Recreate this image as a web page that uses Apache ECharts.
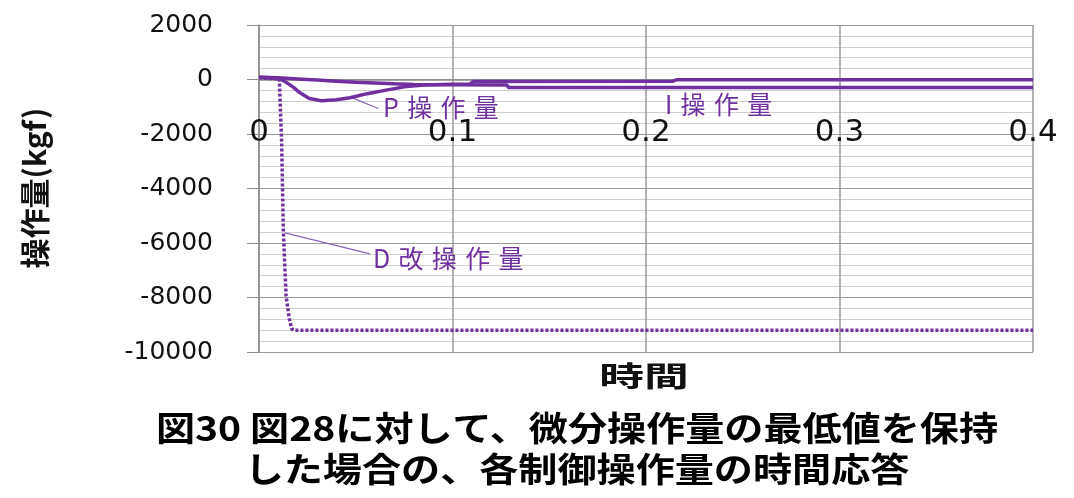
<!DOCTYPE html>
<html>
<head>
<meta charset="utf-8">
<script src="https://cdn.jsdelivr.net/npm/echarts@6/dist/echarts.min.js"></script>
<style>
  html, body { margin: 0; background: #fff; }
  #chart { width: 1074px; height: 498px; }
</style>
</head>
<body>
<div id="chart"></div>
<script>
// 時間 [s]
const xTicks = [0, 0.1, 0.2, 0.3, 0.4];
const yTicks = [-10000, -8000, -6000, -4000, -2000, 0, 2000];

// P操作量
const pTime = [0, 0.006, 0.011, 0.014, 0.018, 0.021, 0.026, 0.0324, 0.04, 0.047, 0.056, 0.065, 0.075, 0.085, 0.1, 0.109, 0.111, 0.214, 0.216, 0.4];
const pValue = [80, 60, 20, -100, -300, -480, -700, -780, -740, -670, -520, -400, -270, -200, -175, -165, -70, -60, -5, -5];

// I操作量
const iTime = [0, 0.01, 0.02, 0.03, 0.04, 0.05, 0.06, 0.07, 0.08, 0.1, 0.128, 0.129, 0.4];
const iValue = [80, 60, 20, -20, -60, -100, -130, -160, -180, -190, -200, -290, -290];

// D改操作量 (最低値を保持)
const dTime = [0, 0.0105, 0.0113, 0.0117, 0.0126, 0.014, 0.0157, 0.0169, 0.018, 0.4];
const dValue = [60, 20, 0, -2300, -5600, -7950, -8800, -9150, -9200, -9200];

const zip = (t, v) => t.map((x, i) => [x, v[i]]);

const purple = '#7030a0';
const gridTop = 25;
const gridBottom = 146;
const gridHeight = 498 - gridTop - gridBottom;
// x軸を 0 の位置へ持ち上げる
const yMin = yTicks[0];
const yMax = yTicks[yTicks.length - 1];
const xAxisOffset = -gridHeight * (0 - yMin) / (yMax - yMin);

const chart = echarts.init(document.getElementById('chart'));

const option = {
  animation: false,
  grid: { left: 259, right: 41, top: gridTop, bottom: gridBottom },
  xAxis: {
    type: 'value',
    min: xTicks[0],
    max: xTicks[xTicks.length - 1],
    interval: 0.1,
    offset: xAxisOffset,
    axisLine: { onZero: false, lineStyle: { color: '#8c8c8c', width: 1.5 } },
    axisTick: { show: false },
    axisLabel: {
      margin: 38,
      color: '#111',
      fontFamily: 'DejaVu Sans',
      fontSize: 31,
      showMaxLabel: true,
      formatter: v => String(v),
    },
    splitLine: { show: true, lineStyle: { color: '#9a9a9a', width: 1.5 } },
  },
  yAxis: {
    type: 'value',
    min: yMin,
    max: yMax,
    interval: 2000,
    axisLine: { show: true, lineStyle: { color: '#8c8c8c', width: 1.5 } },
    axisTick: { show: true, length: 12, lineStyle: { color: '#8c8c8c' } },
    axisLabel: {
      margin: 46,
      color: '#111',
      fontFamily: 'DejaVu Sans',
      fontSize: 25,
      formatter: v => String(v),
    },
    splitLine: { show: true, lineStyle: { color: '#9a9a9a', width: 1.2 } },
    minorTick: { show: false, splitNumber: 5 },
    minorSplitLine: { show: true, lineStyle: { color: '#cfcfcf', width: 1 } },
  },
  series: [
    {
      name: 'I操作量',
      type: 'line',
      data: zip(iTime, iValue),
      showSymbol: false,
      lineStyle: { color: purple, width: 3.5 },
    },
    {
      name: 'P操作量',
      type: 'line',
      data: zip(pTime, pValue),
      showSymbol: false,
      lineStyle: { color: purple, width: 3.5 },
    },
    {
      name: 'D改操作量',
      type: 'line',
      data: zip(dTime, dValue),
      showSymbol: false,
      lineStyle: { color: purple, width: 3.5, type: [3, 2] },
    },
  ],
};

chart.setOption(option);

// 注記とタイトル
const px = (t, v) => chart.convertToPixel({ gridIndex: 0 }, [t, v]);
const sp = '\u2004';
const notes = [
  { text: ['P', '操', '作', '量'].join(sp), at: [0.0641, -1028], from: [0.047, -636], to: [0.0617, -1064] },
  { text: ['I', '操', '作', '量'].join(sp), at: [0.2098, -917] },
  { text: ['D', '改', '操', '作', '量'].join(sp), at: [0.0589, -6570], from: [0.01344, -5627], to: [0.0574, -6397] },
];

const graphics = [];
notes.forEach(n => {
  if (n.from) {
    const a = px(n.from[0], n.from[1]);
    const b = px(n.to[0], n.to[1]);
    graphics.push({
      type: 'line',
      shape: { x1: a[0], y1: a[1], x2: b[0], y2: b[1] },
      style: { stroke: '#8a62b4', lineWidth: 1.2 },
    });
  }
  const p = px(n.at[0], n.at[1]);
  graphics.push({
    type: 'text',
    x: p[0],
    y: p[1],
    style: {
      text: n.text,
      fill: purple,
      font: '25px "Noto Sans CJK JP"',
      align: 'left',
      verticalAlign: 'middle',
    },
  });
});

const titleFont = size => 'bold ' + size + 'px "Noto Sans CJK JP"';
graphics.push(
  {
    type: 'text', x: 35, y: 188, rotation: Math.PI / 2,
    style: { text: '操作量(kgf)', fill: '#111', font: titleFont(30), align: 'center', verticalAlign: 'middle' },
  },
  {
    type: 'text', x: 644, y: 376, scaleX: 1.6,
    style: { text: '時間', fill: '#111', font: titleFont(28), align: 'center', verticalAlign: 'middle' },
  },
  {
    type: 'text', x: 577, y: 428, scaleX: 1.15,
    style: { text: '図30 図28に対して、微分操作量の最低値を保持', fill: '#000', font: titleFont(34), align: 'center', verticalAlign: 'middle' },
  },
  {
    type: 'text', x: 577, y: 469, scaleX: 1.15,
    style: { text: 'した場合の、各制御操作量の時間応答', fill: '#000', font: titleFont(34), align: 'center', verticalAlign: 'middle' },
  }
);

chart.setOption({ graphic: graphics });
</script>
</body>
</html>
